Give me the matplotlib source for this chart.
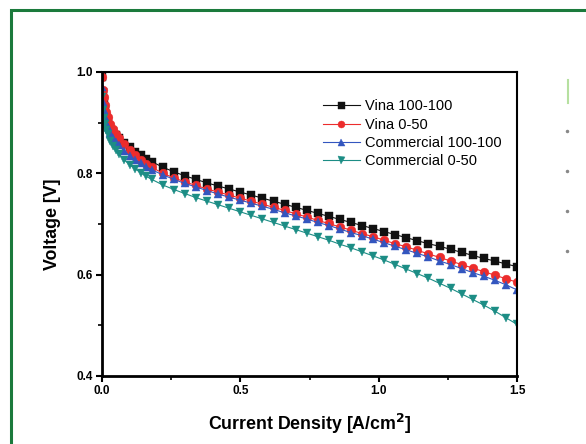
import matplotlib
matplotlib.use("Agg")
import matplotlib.pyplot as plt
from matplotlib.patches import Rectangle
from matplotlib.lines import Line2D
from matplotlib.ticker import MultipleLocator

plt.rcParams['font.family'] = ['Liberation Sans', 'DejaVu Sans']

# current density [A/cm2]
current = [0, 0.003, 0.006, 0.01, 0.015, 0.02, 0.03, 0.04, 0.05, 0.06, 0.08, 0.10,
           0.12, 0.14, 0.16, 0.18, 0.22, 0.26, 0.30, 0.34, 0.38, 0.42, 0.46, 0.50,
           0.54, 0.58, 0.62, 0.66, 0.70, 0.74, 0.78, 0.82, 0.86, 0.90, 0.94, 0.98,
           1.02, 1.06, 1.10, 1.14, 1.18, 1.22, 1.26, 1.30, 1.34, 1.38, 1.42, 1.46, 1.50]

vina_100 = [0.99, 0.96, 0.94, 0.925, 0.912, 0.903, 0.892, 0.883, 0.876, 0.870, 0.860, 0.851,
            0.843, 0.836, 0.829, 0.823, 0.812, 0.803, 0.795, 0.788, 0.781, 0.775, 0.769, 0.763,
            0.757, 0.751, 0.745, 0.739, 0.733, 0.727, 0.721, 0.715, 0.709, 0.703, 0.697, 0.691,
            0.685, 0.679, 0.673, 0.667, 0.661, 0.656, 0.650, 0.644, 0.638, 0.632, 0.627, 0.621, 0.616]

vina_050 = [0.99, 0.965, 0.95, 0.935, 0.922, 0.912, 0.898, 0.887, 0.878, 0.870, 0.857, 0.846,
            0.836, 0.827, 0.819, 0.812, 0.800, 0.791, 0.783, 0.776, 0.769, 0.763, 0.757, 0.751,
            0.745, 0.739, 0.733, 0.727, 0.720, 0.714, 0.707, 0.701, 0.694, 0.688, 0.681, 0.675,
            0.668, 0.661, 0.655, 0.648, 0.641, 0.634, 0.627, 0.620, 0.613, 0.606, 0.599, 0.592, 0.585]

comm_100 = [0.97, 0.94, 0.925, 0.912, 0.900, 0.891, 0.879, 0.869, 0.862, 0.855, 0.844, 0.835,
            0.827, 0.820, 0.813, 0.807, 0.797, 0.788, 0.780, 0.773, 0.766, 0.759, 0.753, 0.747,
            0.741, 0.735, 0.729, 0.722, 0.716, 0.710, 0.703, 0.697, 0.690, 0.683, 0.677, 0.670,
            0.663, 0.656, 0.649, 0.642, 0.635, 0.627, 0.620, 0.612, 0.604, 0.597, 0.589, 0.580, 0.570]

comm_050 = [0.95, 0.925, 0.91, 0.898, 0.886, 0.877, 0.864, 0.854, 0.846, 0.839, 0.827, 0.817,
            0.809, 0.801, 0.794, 0.788, 0.777, 0.768, 0.760, 0.752, 0.745, 0.738, 0.731, 0.724,
            0.717, 0.710, 0.703, 0.696, 0.689, 0.682, 0.675, 0.668, 0.660, 0.653, 0.645, 0.637,
            0.629, 0.620, 0.611, 0.602, 0.593, 0.583, 0.573, 0.562, 0.551, 0.540, 0.528, 0.515, 0.502]

labels = ['Vina 100-100', 'Vina 0-50', 'Commercial 100-100', 'Commercial 0-50']
colors = ['#111111', '#ec2c2c', '#3356bf', '#1c8d85']
markers = ['s', 'o', '^', 'v']

W, H = 586, 444
fig = plt.figure(figsize=(W / 100, H / 100), dpi=100)
fig.patch.set_facecolor('white')

# green frame of the page
fig.patches.append(Rectangle((11 / W, -0.05), 1.2, 1 - 10 / H + 0.05,
                             transform=fig.transFigure, fill=False,
                             edgecolor='#1b7a3c', linewidth=2.2))

ax = fig.add_axes([102 / W, 1 - 376 / H, (517 - 102) / W, (376 - 72) / H])

for ys, lab, c, m in zip([vina_100, vina_050, comm_100, comm_050], labels, colors, markers):
    ax.plot(current, ys, color=c, marker=m, markersize=6.3, linewidth=0.8,
            markeredgewidth=0.3, label=lab)

ax.set_xlim(0, 1.5)
ax.set_ylim(0.4, 1.0)
ax.xaxis.set_major_locator(MultipleLocator(0.5))
ax.xaxis.set_minor_locator(MultipleLocator(0.25))
ax.yaxis.set_major_locator(MultipleLocator(0.2))
ax.yaxis.set_minor_locator(MultipleLocator(0.1))
ax.tick_params(which='major', direction='out', length=4.5, width=1.5, labelsize=8.5, pad=2)
ax.tick_params(which='minor', direction='out', length=3, width=1.2)
for lab in ax.get_xticklabels() + ax.get_yticklabels():
    lab.set_fontweight('bold')
for s in ['left', 'bottom']:
    ax.spines[s].set_linewidth(2)
for s in ['top', 'right']:
    ax.spines[s].set_linewidth(1.5)

ax.set_xlabel('Current Density [A/cm$^\\mathbf{2}$]', fontsize=12.8, fontweight='bold', labelpad=11)
ax.set_ylabel('Voltage [V]', fontsize=12.8, fontweight='bold', labelpad=11)

ax.legend(loc='upper left', bbox_to_anchor=(0.533, 0.91), frameon=False, fontsize=10.5,
          handlelength=2.5, handletextpad=0.35, labelspacing=0.3, borderaxespad=0,
          borderpad=0, markerscale=0.8)

# cropped bits of the neighbouring figure on the right edge
fig.lines.append(Line2D([568 / W, 568 / W], [1 - 80 / H, 1 - 103 / H],
                        transform=fig.transFigure, color='#b6e0a0', linewidth=1.5))
for yy in [131, 171, 211, 251]:
    fig.lines.append(Line2D([567 / W], [1 - yy / H], transform=fig.transFigure,
                            color='#888888', marker='o', markersize=1.5, linestyle='none'))

fig.savefig('out.png', dpi=100, facecolor='white')
